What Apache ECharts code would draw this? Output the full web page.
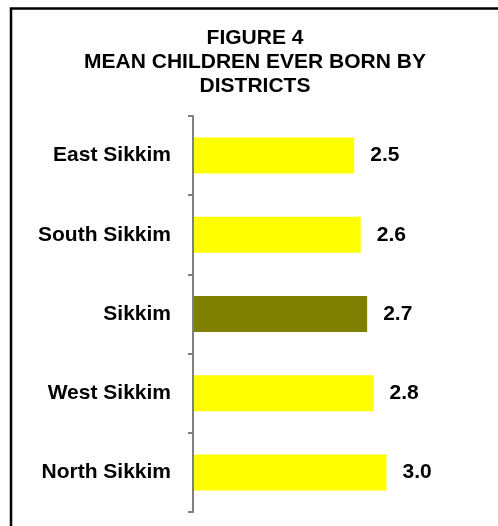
<!DOCTYPE html>
<html>
<head>
<meta charset="utf-8">
<script src="https://cdn.jsdelivr.net/npm/echarts@6/dist/echarts.min.js"></script>
<style>
html,body{margin:0;padding:0;background:#fff;}
#chart{width:498px;height:526px;}
</style>
</head>
<body>
<div id="chart"></div>
<script>
const categories = ["East Sikkim", "South Sikkim", "Sikkim", "West Sikkim", "North Sikkim"];
const values = [2.5, 2.6, 2.7, 2.8, 3.0];
const barColors = ["#FFFF00", "#FFFF00", "#808000", "#FFFF00", "#FFFF00"];
const titleText = "FIGURE 4\nMEAN CHILDREN EVER BORN BY\nDISTRICTS";

const chart = echarts.init(document.getElementById('chart'), null, {renderer: 'canvas'});
const font = '"Liberation Sans", Arial, sans-serif';
chart.setOption({
  animation: false,
  backgroundColor: '#ffffff',
  title: {
    text: titleText,
    left: 250, textAlign: 'center',
    top: 21,
    textStyle: {fontFamily: font, fontWeight: 'bold', fontSize: 21, lineHeight: 24, color: '#000'}
  },
  graphic: [{
    type: 'rect',
    shape: {x: 11, y: 8.5, width: 700, height: 700},
    style: {fill: 'none', stroke: '#000', lineWidth: 2.5},
    silent: true, z: 100
  }],
  grid: {left: 193, top: 116, width: 258, bottom: 14, containLabel: false},
  xAxis: {
    type: 'value', min: 0, max: 4, show: false
  },
  yAxis: {
    type: 'category', data: categories, inverse: true, z: 10,
    axisLine: {show: true, lineStyle: {color: '#808080', width: 2}},
    axisTick: {show: true, length: 5, lineStyle: {color: '#808080', width: 2}},
    axisLabel: {margin: 22, fontFamily: font, fontWeight: 'bold', fontSize: 21, color: '#000'},
    splitLine: {show: false}
  },
  series: [{
    type: 'bar',
    data: values.map((v, i) => ({value: v, itemStyle: {color: barColors[i]}})),
    barWidth: 36,
    label: {
      show: true, position: 'right', distance: 16,
      formatter: p => p.value.toFixed(1),
      fontFamily: font, fontWeight: 'bold', fontSize: 21, color: '#000'
    }
  }]
});
</script>
</body>
</html>
